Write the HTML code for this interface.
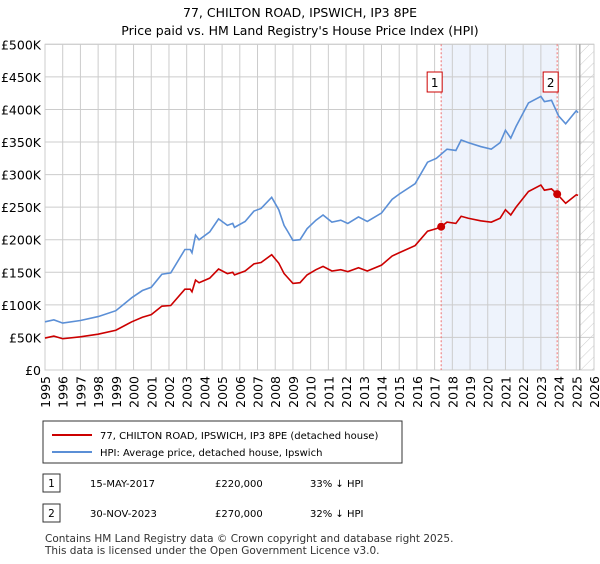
<!DOCTYPE html>
<html><head><meta charset="utf-8"><style>
body{margin:0;background:#fff;font-family:"DejaVu Sans","Liberation Sans",sans-serif;}
svg text{font-family:"DejaVu Sans","Liberation Sans",sans-serif;}
</style></head><body>
<svg id="c" width="600" height="560" xmlns="http://www.w3.org/2000/svg">
<defs><pattern id="hatch" width="8" height="8" patternUnits="userSpaceOnUse" patternTransform="rotate(45)"><line x1="0" y1="0" x2="0" y2="8" stroke="#ccc" stroke-width="1"/></pattern></defs>
<text x="300" y="17" text-anchor="middle" font-size="12.5">77, CHILTON ROAD, IPSWICH, IP3 8PE</text>
<text x="300" y="35" text-anchor="middle" font-size="12.5">Price paid vs. HM Land Registry's House Price Index (HPI)</text>
<g id="plot"></g>
<rect x="43" y="421" width="359" height="42" fill="#fff" stroke="#333"/>
<line x1="52" y1="435" x2="92" y2="435" stroke="#cc0000" stroke-width="2"/>
<text x="100" y="439" font-size="10">77, CHILTON ROAD, IPSWICH, IP3 8PE (detached house)</text>
<line x1="52" y1="452" x2="92" y2="452" stroke="#5b8fd6" stroke-width="2"/>
<text x="100" y="456" font-size="10">HPI: Average price, detached house, Ipswich</text>
<rect x="43" y="474" width="17" height="18" fill="#fff" stroke="#333"/>
<text x="51.5" y="487" text-anchor="middle" font-size="10.5">1</text>
<text x="90" y="487" font-size="10">15-MAY-2017</text>
<text x="215" y="487" font-size="10">£220,000</text>
<text x="310" y="487" font-size="10">33% ↓ HPI</text>
<rect x="43" y="504" width="17" height="18" fill="#fff" stroke="#333"/>
<text x="51.5" y="517" text-anchor="middle" font-size="10.5">2</text>
<text x="90" y="517" font-size="10">30-NOV-2023</text>
<text x="215" y="517" font-size="10">£270,000</text>
<text x="310" y="517" font-size="10">32% ↓ HPI</text>
<text x="45" y="542" font-size="10.5" fill="#333">Contains HM Land Registry data © Crown copyright and database right 2025.</text>
<text x="45" y="554" font-size="10.5" fill="#333">This data is licensed under the Open Government Licence v3.0.</text>
</svg>
<script>
const hpiYears=[1995,1995.5,1996,1997,1998,1999,1999.9,2000.5,2001,2001.6,2002.1,2002.9,2003.2,2003.3,2003.5,2003.7,2004.3,2004.8,2005.3,2005.6,2005.7,2006.3,2006.8,2007.2,2007.8,2008.2,2008.5,2008.7,2009.0,2009.4,2009.8,2010.3,2010.7,2011.2,2011.7,2012.1,2012.7,2013.2,2014.0,2014.6,2015.0,2015.9,2016.6,2017.1,2017.7,2018.2,2018.5,2018.9,2019.6,2020.2,2020.7,2021.0,2021.3,2021.6,2022.3,2023.0,2023.2,2023.6,2024.0,2024.4,2025.0,2025.1];
const hpiValues=[74,77,72,76,82,91,111,122,127,147,149,185,185,180,207,200,212,232,222,225,219,228,244,248,265,246,222,213,199,200,217,230,238,227,230,225,235,228,241,262,270,286,319,325,339,337,353,349,343,339,349,368,356,374,410,420,412,414,390,378,398,395];
const priceYears=[1995,1995.5,1996,1997,1998,1999,1999.9,2000.5,2001,2001.6,2002.1,2002.9,2003.2,2003.3,2003.5,2003.7,2004.3,2004.8,2005.3,2005.6,2005.7,2006.3,2006.8,2007.2,2007.8,2008.2,2008.5,2008.7,2009.0,2009.4,2009.8,2010.3,2010.7,2011.2,2011.7,2012.1,2012.7,2013.2,2014.0,2014.6,2015.0,2015.9,2016.6,2017.1,2017.37,2017.7,2018.2,2018.5,2018.9,2019.6,2020.2,2020.7,2021.0,2021.3,2021.6,2022.3,2023.0,2023.2,2023.6,2023.92,2024.4,2025.0,2025.1];
const priceValues=[49,52,48,51,55,61,74,81,85,98,99,124,124,120,138,134,141,155,148,150,146,152,163,165,177,164,148,142,133,134,146,154,159,152,154,151,157,152,161,175,180,191,213,217,220,227,225,236,233,229,227,233,246,238,250,274,284,276,278,270,256,269,268];
const sales=[{n:"1",year:2017.37,value:220},{n:"2",year:2023.92,value:270}];
const yTicks=[0,50,100,150,200,250,300,350,400,450,500];
const yTickLabels=["£0","£50K","£100K","£150K","£200K","£250K","£300K","£350K","£400K","£450K","£500K"];
const xTicks=[1995,1996,1997,1998,1999,2000,2001,2002,2003,2004,2005,2006,2007,2008,2009,2010,2011,2012,2013,2014,2015,2016,2017,2018,2019,2020,2021,2022,2023,2024,2025,2026];
const dataEnd=2025.2;

const L=45,R=594,T=44.3,B=370,x0=1995,x1=2026,ymax=500;
const X=v=>L+(v-x0)/(x1-x0)*(R-L);
const Y=v=>B-v/ymax*(B-T);
const NS="http://www.w3.org/2000/svg";
const g=document.getElementById('plot');
function mk(t,a,p){const e=document.createElementNS(NS,t);for(const k in a)e.setAttribute(k,a[k]);(p||g).appendChild(e);return e;}
let e;
e=mk('rect',{x:X(sales[0].year),y:T,width:X(sales[1].year)-X(sales[0].year),height:B-T,fill:'#eef3fc'});


e=mk('rect',{x:X(dataEnd),y:T,width:R-X(dataEnd),height:B-T,fill:'url(#hatch)'});


yTicks.forEach((v,i)=>{
 e=mk('line',{x1:L,x2:R,y1:Y(v),y2:Y(v),stroke:'#ccc'});
 
 
 e=mk('text',{x:L-4,y:Y(v)+5,'text-anchor':'end','font-size':'12.5'});e.textContent=yTickLabels[i];
 
 
});
xTicks.forEach(v=>{
 e=mk('line',{x1:X(v),x2:X(v),y1:T,y2:B,stroke:'#ccc'});
 
 
 e=mk('text',{x:0,y:0,'text-anchor':'end','font-size':'12.5',transform:`translate(${X(v)+5},${B+6}) rotate(-90)`});e.textContent=v;
 
 
});
e=mk('rect',{x:L,y:T,width:R-L,height:B-T,fill:'none',stroke:'#ccc'});


e=mk('line',{x1:X(dataEnd),x2:X(dataEnd),y1:T,y2:B,stroke:'#999','stroke-width':1.2});


sales.forEach(s=>{
 e=mk('line',{x1:X(s.year),x2:X(s.year),y1:T,y2:B,stroke:'#f07070','stroke-dasharray':'2,2'});
 
 
 e=mk('rect',{x:X(s.year)-14,y:72,width:15,height:20,fill:'#fff',stroke:'#cc0000'});
 
 
 e=mk('text',{x:X(s.year)-6.5,y:87,'text-anchor':'middle','font-size':'12'});e.textContent=s.n;
 
 
});
e=mk('polyline',{points:hpiYears.map((y,i)=>X(y)+','+Y(hpiValues[i])).join(' '),fill:'none',stroke:'#5b8fd6','stroke-width':1.6});


e=mk('polyline',{points:priceYears.map((y,i)=>X(y)+','+Y(priceValues[i])).join(' '),fill:'none',stroke:'#cc0000','stroke-width':1.6});


sales.forEach(s=>{
 e=mk('circle',{cx:X(s.year),cy:Y(s.value),r:4,fill:'#cc0000'});
 
 
});
</script>
</body></html>
